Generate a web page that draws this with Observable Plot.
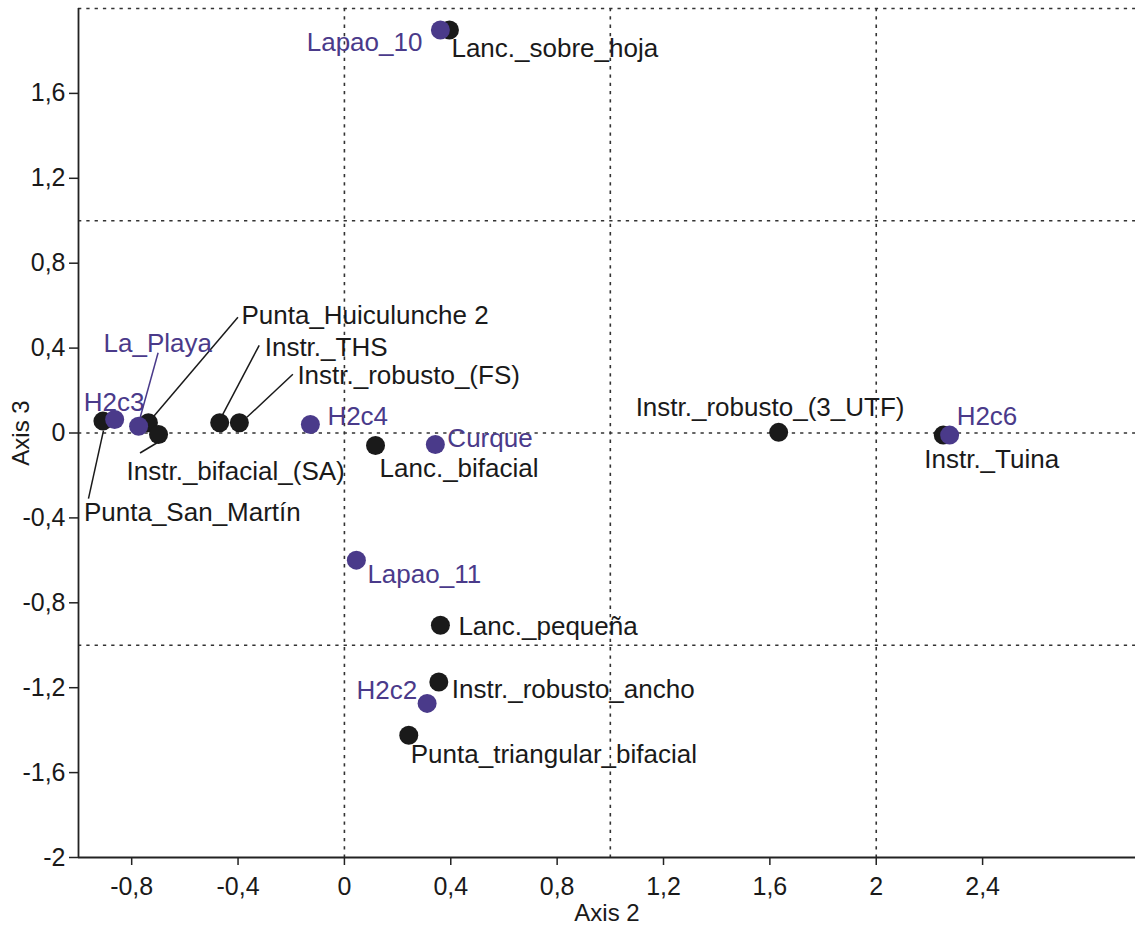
<!DOCTYPE html>
<html>
<head>
<meta charset="utf-8">
<script src="https://cdn.jsdelivr.net/npm/d3@7"></script>
<script src="https://cdn.jsdelivr.net/npm/@observablehq/plot@0.6"></script>
<style>
  html, body { margin: 0; padding: 0; background: #fff; }
  svg { display: block; }
</style>
</head>
<body>
<div id="chart"></div>
<script>
// ---- data ----
const names = [
  "Lanc._sobre_hoja", "Punta_San_Martín", "Punta_Huiculunche 2", "Instr._bifacial_(SA)",
  "Instr._THS", "Instr._robusto_(FS)", "Lanc._bifacial", "Instr._robusto_(3_UTF)",
  "Instr._Tuina", "Lanc._pequeña", "Instr._robusto_ancho", "Punta_triangular_bifacial",
  "Lapao_10", "H2c3", "La_Playa", "H2c4", "Curque", "H2c6", "Lapao_11", "H2c2"
];
const axis2 = [
  0.395, -0.908, -0.737, -0.699,
  -0.469, -0.395, 0.117, 1.633,
  2.252, 0.361, 0.355, 0.242,
  0.361, -0.864, -0.774, -0.128, 0.342, 2.276, 0.045, 0.311
];
const axis3 = [
  1.899, 0.056, 0.048, -0.007,
  0.048, 0.048, -0.059, 0.003,
  -0.010, -0.906, -1.173, -1.424,
  1.899, 0.064, 0.032, 0.040, -0.054, -0.010, -0.599, -1.274
];
const groups = [
  "type", "type", "type", "type",
  "type", "type", "type", "type",
  "type", "type", "type", "type",
  "site", "site", "site", "site", "site", "site", "site", "site"
];
const xTicks = [-0.8, -0.4, 0, 0.4, 0.8, 1.2, 1.6, 2, 2.4];
const yTicks = [-2, -1.6, -1.2, -0.8, -0.4, 0, 0.4, 0.8, 1.2, 1.6];
const xGrid = [0, 1, 2];
const yGrid = [-1, 0, 1, 2];
const xTitle = "Axis 2";
const yTitle = "Axis 3";

// ---- layout / style (label placement in pixels relative to each point) ----
const colors = {type: "#1a1a1a", site: "#4a3a8a"};
const labelLayout = {
  "Lapao_10":                  {anchor: "end",   dx: -18, dy: 13},
  "Lanc._sobre_hoja":          {anchor: "start", dx: 2,   dy: 19},
  "H2c3":                      {anchor: "start", dx: -31, dy: -17},
  "La_Playa":                  {anchor: "start", dx: -35, dy: -83, leader: [20, -73, 2, -8]},
  "Punta_Huiculunche 2":       {anchor: "start", dx: 93,  dy: -107, leader: [90, -105, 5, -5]},
  "Instr._THS":                {anchor: "start", dx: 45,  dy: -75, leader: [40, -77, 2, -5]},
  "Instr._robusto_(FS)":       {anchor: "start", dx: 58,  dy: -47, leader: [54, -48, 8, -5]},
  "Instr._bifacial_(SA)":      {anchor: "start", dx: -32, dy: 37, leader: [-18, 19, 2, 7]},
  "Punta_San_Martín":          {anchor: "start", dx: -19, dy: 92, leader: [-14, 78, 1, 10]},
  "H2c4":                      {anchor: "start", dx: 17,  dy: -8},
  "Curque":                    {anchor: "start", dx: 12,  dy: -6},
  "Lanc._bifacial":            {anchor: "start", dx: 4,   dy: 23},
  "Instr._robusto_(3_UTF)":    {anchor: "start", dx: -143, dy: -25},
  "H2c6":                      {anchor: "start", dx: 7,   dy: -18},
  "Instr._Tuina":              {anchor: "start", dx: -19, dy: 25},
  "Lapao_11":                  {anchor: "start", dx: 11,  dy: 15},
  "Lanc._pequeña":             {anchor: "start", dx: 18,  dy: 1},
  "Instr._robusto_ancho":      {anchor: "start", dx: 13,  dy: 8},
  "H2c2":                      {anchor: "end",   dx: -10, dy: -13},
  "Punta_triangular_bifacial": {anchor: "start", dx: 2,   dy: 19}
};

const rows = names.map((n, i) => ({name: n, x: axis2[i], y: axis3[i], group: groups[i]}));
const fmt = d => String(Math.round(d * 10) / 10).replace(".", ",");
const FONT = "'Liberation Sans', Arial, Helvetica, sans-serif";

const textMarks = rows.map(d => {
  const L = labelLayout[d.name];
  return Plot.text([d], {
    x: "x", y: "y", text: "name",
    textAnchor: L.anchor, dx: L.dx, dy: L.dy,
    fill: colors[d.group], fontSize: 26, fontFamily: FONT
  });
});

function leaderMark(index, scales) {
  const g = d3.create("svg:g");
  for (const d of rows) {
    const L = labelLayout[d.name];
    if (!L.leader) continue;
    const px = scales.x(d.x), py = scales.y(d.y);
    g.append("line")
      .attr("x1", px + L.leader[0]).attr("y1", py + L.leader[1])
      .attr("x2", px + L.leader[2]).attr("y2", py + L.leader[3])
      .attr("stroke", colors[d.group]).attr("stroke-width", 1.5);
  }
  return g.node();
}

const chart = Plot.plot({
  width: 1135,
  height: 926,
  marginLeft: 78,
  marginRight: 0,
  marginTop: 8,
  marginBottom: 69,
  style: {fontFamily: FONT, background: "#fff", color: "#1a1a1a"},
  x: {domain: [-1, 2.975]},
  y: {domain: [-2, 2]},
  marks: [
    Plot.ruleX(xGrid, {stroke: "#333", strokeWidth: 1.6, strokeDasharray: "3.3,5"}),
    Plot.ruleY(yGrid, {stroke: "#333", strokeWidth: 1.6, strokeDasharray: "3.3,5"}),
    Plot.axisX(xTicks, {tickSize: 8, tickPadding: 12, tickFormat: fmt, fontSize: 25, label: null, stroke: "#222", strokeWidth: 1.5, fill: "#1a1a1a"}),
    Plot.axisY(yTicks, {tickSize: 9, tickPadding: 4, tickFormat: fmt, fontSize: 25, label: null, stroke: "#222", strokeWidth: 1.5, fill: "#1a1a1a"}),
    Plot.ruleX([-1], {stroke: "#222", strokeWidth: 1.8}),
    Plot.ruleY([-2], {stroke: "#222", strokeWidth: 1.8}),
    Plot.text([xTitle], {frameAnchor: "bottom", lineAnchor: "middle", textAnchor: "middle", dy: 56, fontSize: 24, fill: "#1a1a1a"}),
    Plot.text([yTitle], {frameAnchor: "left", lineAnchor: "middle", textAnchor: "middle", dx: -57, rotate: -90, fontSize: 24, fill: "#1a1a1a"}),
    leaderMark,
    Plot.dot(rows.filter(d => d.group === "type"), {x: "x", y: "y", r: 9.5, fill: colors.type, stroke: "none"}),
    Plot.dot(rows.filter(d => d.group === "site"), {x: "x", y: "y", r: 9.5, fill: colors.site, stroke: "none"}),
    ...textMarks
  ]
});
document.getElementById("chart").appendChild(chart);
</script>
</body>
</html>
